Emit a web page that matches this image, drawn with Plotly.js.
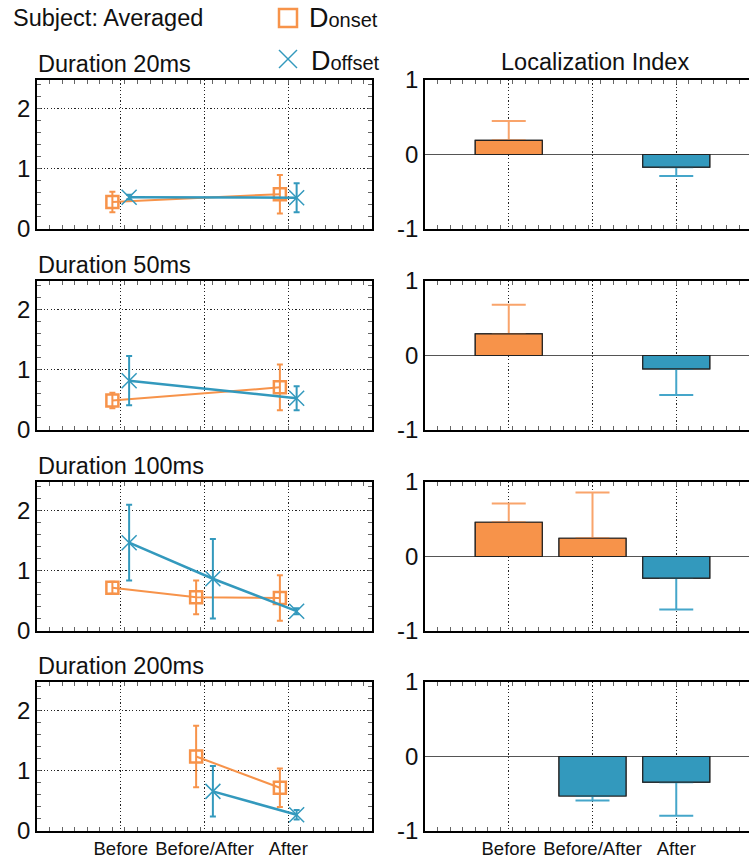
<!DOCTYPE html>
<html>
<head>
<meta charset="utf-8">
<script src="https://cdn.plot.ly/plotly-3.0.1.min.js"></script>
<style>html,body{margin:0;padding:0;background:#fff;}</style>
</head>
<body>
<div id="chart" style="width:749px;height:859px;"></div>
<script>
// ---- data ----
var categories = ['Before', 'Before/After', 'After'];
var durations = ['Duration 20ms', 'Duration 50ms', 'Duration 100ms', 'Duration 200ms'];

var onset20 = [0.45, null, 0.58];   var onsetErr20 = [0.17, null, 0.32];
var offset20 = [0.53, null, 0.52];  var offsetErr20 = [0.04, null, 0.24];
var onset50 = [0.49, null, 0.71];   var onsetErr50 = [0.13, null, 0.38];
var offset50 = [0.82, null, 0.53];  var offsetErr50 = [0.41, null, 0.20];
var onset100 = [0.72, 0.56, 0.55];  var onsetErr100 = [0.10, 0.28, 0.38];
var offset100 = [1.47, 0.87, 0.33]; var offsetErr100 = [0.63, 0.66, 0.05];
var onset200 = [null, 1.24, 0.72];  var onsetErr200 = [null, 0.51, 0.32];
var offset200 = [null, 0.66, 0.27]; var offsetErr200 = [null, 0.42, 0.08];

var li20 = [0.19, null, -0.17];    var liErr20 = [0.26, null, 0.12];
var li50 = [0.29, null, -0.18];    var liErr50 = [0.39, null, 0.35];
var li100 = [0.46, 0.245, -0.29];  var liErr100 = [0.25, 0.615, 0.42];
var li200 = [null, -0.53, -0.344]; var liErr200 = [null, 0.06, 0.45];

var onsetRows = [onset20, onset50, onset100, onset200];
var onsetErrRows = [onsetErr20, onsetErr50, onsetErr100, onsetErr200];
var offsetRows = [offset20, offset50, offset100, offset200];
var offsetErrRows = [offsetErr20, offsetErr50, offsetErr100, offsetErr200];
var liRows = [li20, li50, li100, li200];
var liErrRows = [liErr20, liErr50, liErr100, liErr200];

// ---- style ----
var W = 749, H = 859;
var ORANGE = '#F7934A', BLUE = '#3399BD';
var ORANGE_ERR = '#F9A46B', BLUE_ERR = '#45A6CA';
var FONT = 'Liberation Sans, Arial, Helvetica, sans-serif';
var GRIDDASH = '1.2px,2.2px';
var rowPix = [[80, 229], [281, 430], [482, 631], [682, 831]];
var leftX = [37 / W, 372 / W];
var rightX = [425 / W, 1];
var rightRange = [0, (749 - 425) / 83.75];

function px(x) { return x / W; }
function py(y) { return 1 - y / H; }

var baseX = [0, 1, 2].map(function (i) { return i + 1; });

var data = [];
var layout = {
  width: W, height: H,
  margin: {l: 0, r: 0, t: 0, b: 0},
  paper_bgcolor: '#fff', plot_bgcolor: '#fff',
  showlegend: false,
  barmode: 'overlay',
  font: {family: FONT, color: '#111'},
  annotations: [], shapes: []
};

for (var r = 0; r < 4; r++) {
  var la = 2 * r + 1, ra = 2 * r + 2;
  var lx = 'x' + la, ly = 'y' + la, rx = 'x' + ra, ry = 'y' + ra;
  var dom = [py(rowPix[r][1]), py(rowPix[r][0])];
  var last = (r === 3);

  // left: onset/offset lines with error bars
  data.push({
    type: 'scatter', mode: 'lines+markers', xaxis: lx, yaxis: ly,
    x: baseX.map(function (v) { return v - 0.1; }), y: onsetRows[r],
    connectgaps: true,
    line: {color: ORANGE, width: 2},
    marker: {symbol: 'square-open', size: 12, color: ORANGE, line: {width: 2.5, color: ORANGE}},
    error_y: {type: 'data', array: onsetErrRows[r], visible: true, color: ORANGE, thickness: 2, width: 3}
  });
  data.push({
    type: 'scatter', mode: 'lines+markers', xaxis: lx, yaxis: ly,
    x: baseX.map(function (v) { return v + 0.1; }), y: offsetRows[r],
    connectgaps: true,
    line: {color: BLUE, width: 2.5},
    marker: {symbol: 'x-thin-open', size: 15, color: BLUE, line: {width: 1.5, color: BLUE}},
    error_y: {type: 'data', array: offsetErrRows[r], visible: true, color: BLUE, thickness: 2, width: 3}
  });

  // right: localization index bars (positive -> orange, negative -> blue)
  var li = liRows[r], le = liErrRows[r];
  var posY = li.map(function (v) { return (v !== null && v > 0) ? v : null; });
  var negY = li.map(function (v) { return (v !== null && v < 0) ? v : null; });
  var zeros = le.map(function () { return 0; });
  data.push({
    type: 'bar', xaxis: rx, yaxis: ry, x: baseX, width: 0.8, y: posY,
    marker: {color: ORANGE, line: {color: '#222', width: 1.2}},
    error_y: {type: 'data', symmetric: false, visible: true,
      array: le, arrayminus: zeros, color: ORANGE_ERR, thickness: 2, width: 17}
  });
  data.push({
    type: 'bar', xaxis: rx, yaxis: ry, x: baseX, width: 0.8, y: negY,
    marker: {color: BLUE, line: {color: '#222', width: 1.2}},
    error_y: {type: 'data', symmetric: false, visible: true,
      array: zeros, arrayminus: le, color: BLUE_ERR, thickness: 2, width: 17}
  });
  // same bars again without error bars, so the bar edge sits on top
  data.push({
    type: 'bar', xaxis: rx, yaxis: ry, x: baseX, width: 0.8, y: posY,
    marker: {color: ORANGE, line: {color: '#222', width: 1.2}}
  });
  data.push({
    type: 'bar', xaxis: rx, yaxis: ry, x: baseX, width: 0.8, y: negY,
    marker: {color: BLUE, line: {color: '#222', width: 1.2}}
  });

  var xCommon = {
    tickvals: baseX, ticktext: categories, showticklabels: last, tickangle: 0,
    tickfont: {size: 18.5, family: FONT, color: '#111'},
    showgrid: true, gridcolor: '#222', griddash: GRIDDASH, gridwidth: 1,
    zeroline: false, showline: true, linecolor: '#000', linewidth: 1.8,
    mirror: 'allticks', ticks: 'inside', ticklen: 0, tickcolor: '#444',
    minor: {ticks: 'inside', ticklen: 4, dtick: 0.15, tickcolor: '#666', showgrid: false},
    fixedrange: true
  };
  layout['xaxis' + la] = Object.assign({}, xCommon, {
    domain: leftX, range: [0, 4], anchor: ly
  });
  layout['xaxis' + ra] = Object.assign({}, xCommon, {
    domain: rightX, range: rightRange, anchor: ry
  });
  layout['yaxis' + la] = {
    domain: dom, range: [0, 2.48], anchor: lx,
    tickvals: [0, 1, 2], tickfont: {size: 24, family: FONT, color: '#111'},
    showgrid: true, gridcolor: '#222', griddash: GRIDDASH, gridwidth: 1,
    zeroline: false, showline: true, linecolor: '#000', linewidth: 1.8,
    mirror: 'allticks', ticks: 'inside', ticklen: 0,
    minor: {ticks: 'inside', ticklen: 4, dtick: 0.2, tickcolor: '#666', showgrid: false},
    fixedrange: true
  };
  layout['yaxis' + ra] = {
    domain: dom, range: [-1, 1], anchor: rx,
    tickvals: [-1, 0, 1], ticktext: ['-1', '0', '1'],
    tickfont: {size: 24, family: FONT, color: '#111'},
    showgrid: false, zeroline: true, zerolinecolor: '#555', zerolinewidth: 1.5,
    showline: true, linecolor: '#000', linewidth: 1.8, mirror: false,
    ticks: '', fixedrange: true
  };

  layout.annotations.push({
    text: durations[r], xref: 'paper', yref: 'paper',
    x: px(36), y: py(rowPix[r][0] - 16), xanchor: 'left', yanchor: 'middle',
    showarrow: false, font: {size: 23.5, family: FONT, color: '#111'}
  });
}

layout.annotations.push({
  text: 'Localization Index', xref: 'paper', yref: 'paper',
  x: px(595), y: py(62), xanchor: 'center', yanchor: 'middle',
  showarrow: false, font: {size: 23.5, family: FONT, color: '#111'}
});
layout.annotations.push({
  text: 'Subject: Averaged', xref: 'paper', yref: 'paper',
  x: px(11), y: py(18), xanchor: 'left', yanchor: 'middle',
  showarrow: false, font: {size: 23.5, family: FONT, color: '#111'}
});
layout.annotations.push({
  text: 'D<span style="font-size:20px">onset</span>', xref: 'paper', yref: 'paper',
  x: px(307), y: py(18), xanchor: 'left', yanchor: 'middle',
  showarrow: false, font: {size: 27, family: FONT, color: '#111'}
});
layout.annotations.push({
  text: 'D<span style="font-size:20px">offset</span>', xref: 'paper', yref: 'paper',
  x: px(309), y: py(61), xanchor: 'left', yanchor: 'middle',
  showarrow: false, font: {size: 27, family: FONT, color: '#111'}
});

// legend symbols
layout.shapes.push({type: 'rect', xref: 'paper', yref: 'paper',
  x0: px(279), x1: px(297), y0: py(27), y1: py(9),
  line: {color: ORANGE, width: 2.5}});
layout.shapes.push({type: 'line', xref: 'paper', yref: 'paper',
  x0: px(279), x1: px(297), y0: py(50), y1: py(68),
  line: {color: BLUE, width: 1.5}});
layout.shapes.push({type: 'line', xref: 'paper', yref: 'paper',
  x0: px(279), x1: px(297), y0: py(68), y1: py(50),
  line: {color: BLUE, width: 1.5}});

Plotly.newPlot('chart', data, layout, {displayModeBar: false, staticPlot: true});
</script>
</body>
</html>
